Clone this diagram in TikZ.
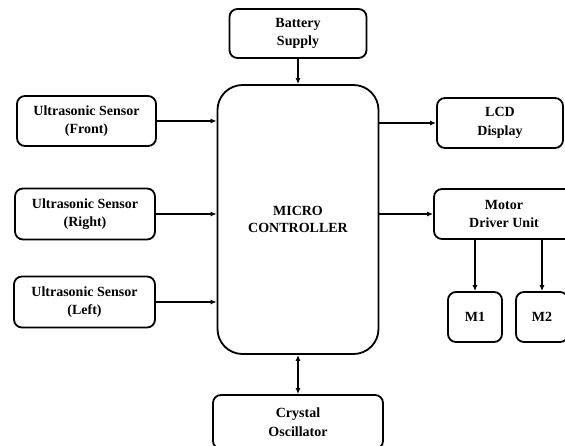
\documentclass[tikz,border=0pt]{standalone}
\usepackage{fontspec}
\setmainfont{Liberation Serif}
\usetikzlibrary{arrows.meta}
\begin{document}
\begin{tikzpicture}[x=1pt,y=-1pt,
  blk/.style={draw,line width=1.8pt,rounded corners=8pt,align=center,inner sep=0pt,
    font=\fontsize{14}{18.5}\selectfont\bfseries},
  arr/.style={line width=1.8pt,-{Latex[length=6pt,width=5pt]}},
  darr/.style={line width=1.8pt,{Latex[length=6pt,width=5pt]}-{Latex[length=6pt,width=5pt]}}]
\useasboundingbox (0,0) rectangle (565,445);
\clip (0,0) rectangle (565,445);
\node[blk,minimum width=137pt,minimum height=49pt] (bat) at (298,33.5) {Battery\\Supply};
\node[blk,rounded corners=25pt,minimum width=161pt,minimum height=269pt] (mc) at (298,219.5) {MICRO\\[-2pt]CONTROLLER};
\node[blk,minimum width=139pt,minimum height=50pt] (f) at (86.5,121) {Ultrasonic Sensor\\(Front)};
\node[blk,minimum width=140pt,minimum height=51pt] (r) at (85,214) {Ultrasonic Sensor\\(Right)};
\node[blk,minimum width=141pt,minimum height=51pt] (l) at (84.5,302) {Ultrasonic Sensor\\(Left)};
\node[blk,minimum width=126pt,minimum height=50pt] (lcd) at (500,123) {LCD\\Display};
\node[blk,minimum width=140pt,minimum height=50pt] (mdu) at (504,214) {Motor\\Driver Unit};
\node[blk,minimum width=54pt,minimum height=50pt] (m1) at (475,317) {M1};
\node[blk,minimum width=52pt,minimum height=50pt] (m2) at (542,317) {M2};
\node[blk,minimum width=170pt,minimum height=54pt] (osc) at (298,422) {Crystal\\Oscillator};
\draw[arr] (bat.south) -- (mc.north);
\draw[arr] (f.east) -- (f.east -| mc.west);
\draw[arr] (r.east) -- (r.east -| mc.west);
\draw[arr] (l.east) -- (l.east -| mc.west);
\draw[arr] (lcd.west -| mc.east) -- (lcd.west);
\draw[arr] (mdu.west -| mc.east) -- (mdu.west);
\draw[arr] (m1.north |- mdu.south) -- (m1.north);
\draw[arr] (m2.north |- mdu.south) -- (m2.north);
\draw[darr] (mc.south -| osc.north) -- (osc.north);
\end{tikzpicture}
\end{document}
